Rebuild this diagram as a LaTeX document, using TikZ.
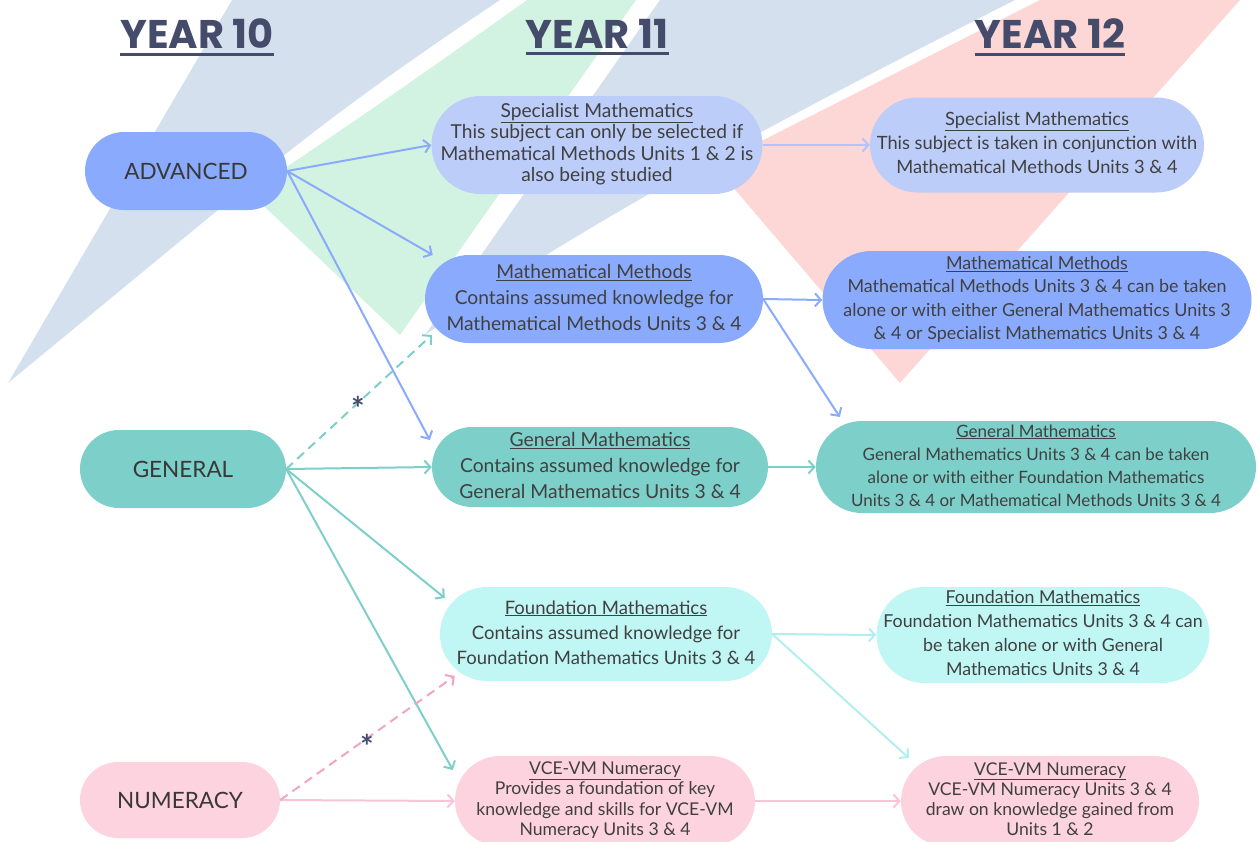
\documentclass[tikz,border=0pt]{standalone}
\usepackage{fontspec}
\setmainfont{Lato}
\newfontfamily\headfont{Poppins}
\usetikzlibrary{shapes.misc,arrows.meta}
\definecolor{advblue}{RGB}{138, 171, 253}
\definecolor{specblue}{RGB}{189, 205, 249}
\definecolor{genteal}{RGB}{125, 207, 202}
\definecolor{fndcyan}{RGB}{192, 246, 244}
\definecolor{numpink}{RGB}{253, 211, 224}
\definecolor{bgblue}{RGB}{213, 224, 239}
\definecolor{bggreen}{RGB}{211, 243, 226}
\definecolor{bgpink}{RGB}{253, 214, 214}
\definecolor{headink}{RGB}{69, 75, 107}
\definecolor{bodyink}{RGB}{64, 64, 64}
\definecolor{specline}{RGB}{178, 196, 250}
\definecolor{fndline}{RGB}{178, 238, 238}
\definecolor{numline}{RGB}{250, 196, 216}
\definecolor{dashpink}{RGB}{242, 164, 192}
\newcommand{\subj}[2]{\makebox[0pt]{\begin{tabular}{@{}c@{}}\underline{#1}\\#2\end{tabular}}}
\tikzset{
  pill/.style={rounded rectangle, inner sep=0pt, text=bodyink},
  level/.style={pill, minimum width=202pt, minimum height=78pt, font=\fontsize{22.5}{24}\selectfont, text=black!78},
  course/.style 2 args={pill, font=\fontsize{#1}{#2}\selectfont},
  link/.style={line width=2pt, -{Straight Barb[length=6pt,width=13pt]}},
  dashlink/.style={link, dash pattern=on 9pt off 6pt},
  yearhead/.style={inner sep=0pt, font=\headfont\bfseries\fontsize{40}{40}\selectfont, text=headink},
  starmark/.style={inner sep=0pt, font=\bfseries\fontsize{32}{32}\selectfont, text=headink}
}
\begin{document}
\begin{tikzpicture}[x=1pt, y=-1pt]
  \useasboundingbox (0, 0) rectangle (1258, 841);
  \clip (0, 0) rectangle (1258, 841);

  \fill [bgblue] (8, 383) -- (232, 0) -- (500, 0) .. controls (380, 80) and (300, 140) .. (230, 200) -- cycle;
  \fill [bggreen] (400, 335) -- (249, 192) .. controls (350, 125) and (440, 62) .. (527, 0) -- (636, 0) -- cycle;
  \fill [bgblue] (425, 335) -- (660, 0) -- (1015, 0) .. controls (710, 155) and (560, 240) .. (425, 335) -- cycle;
  \fill [bgpink] (900, 383) -- (714, 165) -- (1040, 0) -- (1240, 0) -- cycle;

  \node [yearhead] (y10) at (197, 34) {YEAR 10};
  \node [yearhead] (y11) at (597, 34) {YEAR 11};
  \node [yearhead] (y12) at (1050, 34) {YEAR 12};
  \draw [headink, line width=3pt] ([yshift=-5pt]y10.south west) -- ([yshift=-5pt]y10.south east);
  \draw [headink, line width=3pt] ([yshift=-5pt]y11.south west) -- ([yshift=-5pt]y11.south east);
  \draw [headink, line width=3pt] ([yshift=-5pt]y12.south west) -- ([yshift=-5pt]y12.south east);

  \node [level, fill=advblue] (adv) at (186, 171) {\makebox[0pt]{ADVANCED}};
  \node [level, fill=genteal, minimum width=206pt] (gen) at (183, 469) {\makebox[0pt]{GENERAL}};
  \node [level, fill=numpink, minimum width=200pt, minimum height=76pt] (num) at (180, 800) {\makebox[0pt]{NUMERACY}};

  \node [course={19.2}{21.5}, fill=specblue, minimum width=331pt, minimum height=98pt] (specA) at (597, 145) {\subj{Specialist Mathematics}{This subject can only be selected if\\Mathematical Methods Units 1 \& 2 is\\also being studied}};
  \node [course={19.2}{26}, fill=advblue, minimum width=338pt, minimum height=88pt] (mmA) at (594, 299) {\subj{Mathematical Methods}{Contains assumed knowledge for\\Mathematical Methods Units 3 \& 4}};
  \node [course={19.3}{26}, fill=genteal, minimum width=336pt, minimum height=80pt] (genA) at (600, 467) {\subj{General Mathematics}{Contains assumed knowledge for\\General Mathematics Units 3 \& 4}};
  \node [course={18.5}{25}, fill=fndcyan, minimum width=332pt, minimum height=94pt] (fndA) at (606, 634) {\subj{Foundation Mathematics}{Contains assumed knowledge for\\Foundation Mathematics Units 3 \& 4}};
  \node [course={17.6}{20.5}, fill=numpink, minimum width=300pt, minimum height=90pt] (numA) at (605, 801) {\subj{VCE-VM Numeracy}{Provides a foundation of key\\knowledge and skills for VCE-VM\\Numeracy Units 3 \& 4}};

  \node [course={18.3}{24}, fill=specblue, minimum width=334pt, minimum height=95pt] (specB) at (1037, 145) {\subj{Specialist Mathematics}{This subject is taken in conjunction with\\Mathematical Methods Units 3 \& 4}};
  \node [course={17.9}{23.5}, fill=advblue, minimum width=429pt, minimum height=98pt] (mmB) at (1037, 300) {\subj{Mathematical Methods}{Mathematical Methods Units 3 \& 4 can be taken\\alone or with either General Mathematics Units 3\\\& 4 or Specialist Mathematics Units 3 \& 4}};
  \node [course={17}{23}, fill=genteal, minimum width=440pt, minimum height=89pt] (genB) at (1036, 467) {\subj{General Mathematics}{General Mathematics Units 3 \& 4 can be taken\\alone or with either Foundation Mathematics\\Units 3 \& 4 or Mathematical Methods Units 3 \& 4}};
  \node [course={17.8}{24}, fill=fndcyan, minimum width=333pt, minimum height=94pt] (fndB) at (1043, 635) {\subj{Foundation Mathematics}{Foundation Mathematics Units 3 \& 4 can\\be taken alone or with General\\Mathematics Units 3 \& 4}};
  \node [course={17.6}{20}, fill=numpink, minimum width=298pt, minimum height=90pt] (numB) at (1050, 801) {\subj{VCE-VM Numeracy}{VCE-VM Numeracy Units 3 \& 4\\draw on knowledge gained from\\Units 1 \& 2}};

  \draw [link, advblue] (adv.east) -- (specA.west);
  \draw [link, advblue] (adv.east) -- ([shift={(8,-44)}]mmA.west);
  \draw [link, advblue] (adv.east) -- ([shift={(-2,-27)}]genA.west);
  \draw [link, specline] (specA.east) -- (specB.west);
  \draw [link, advblue] (mmA.east) -- (mmB.west);
  \draw [link, advblue] (mmA.east) -- ([shift={(24,-50)}]genB.west);
  \draw [link, genteal] (gen.east) -- (genA.west);
  \draw [link, genteal] (gen.east) -- ([shift={(5,-36)}]fndA.west);
  \draw [link, genteal] (gen.east) -- ([shift={(-2,-31)}]numA.west);
  \draw [dashlink, genteal] (gen.east) -- ([shift={(7,36)}]mmA.west);
  \draw [link, genteal] (genA.east) -- (genB.west);
  \draw [link, fndline] (fndA.east) -- (fndB.west);
  \draw [link, fndline] (fndA.east) -- ([shift={(8,-43)}]numB.west);
  \draw [link, numline] (num.east) -- (numA.west);
  \draw [dashlink, dashpink] (num.east) -- ([shift={(15,42)}]fndA.west);
  \draw [link, numline] (numA.east) -- (numB.west);

  \node [starmark] (star1) at (358, 408) {*};
  \node [starmark] (star2) at (367, 746) {*};
\end{tikzpicture}
\end{document}
